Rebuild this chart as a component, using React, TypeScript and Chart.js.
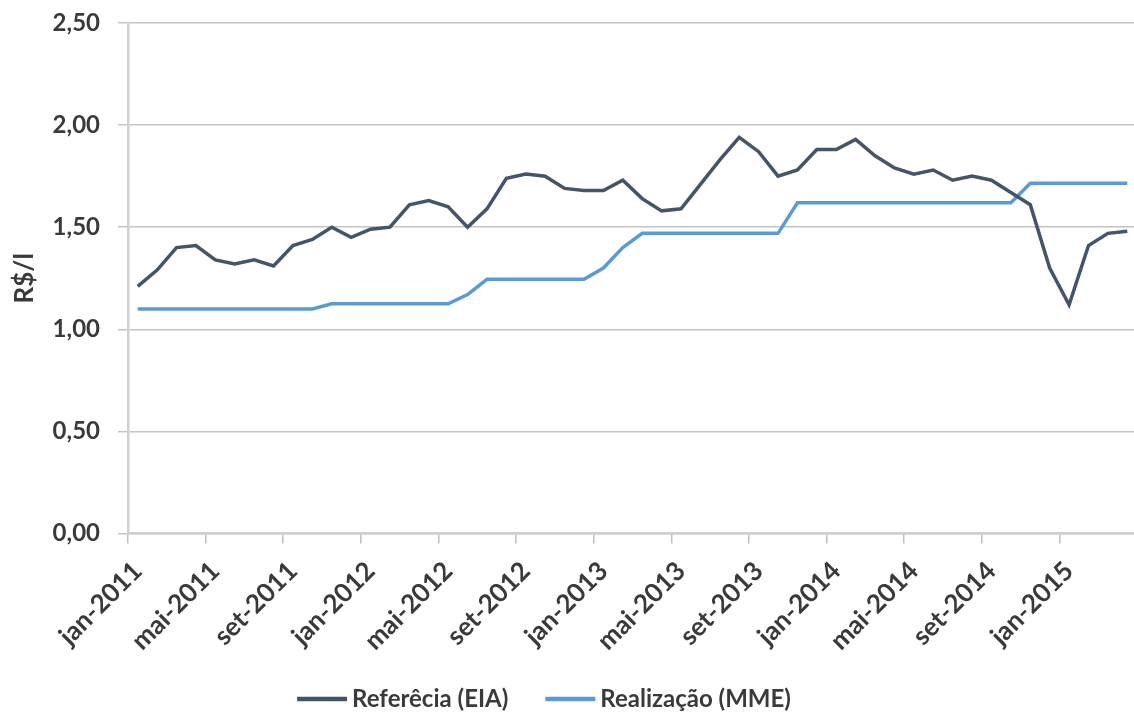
import React, { useEffect, useRef } from 'react';
import { Chart, registerables } from 'chart.js';

Chart.register(...registerables);

// Monthly categories, jan-2011 .. abr-2015
const months: string[] = [
  'jan-2011', 'fev-2011', 'mar-2011', 'abr-2011', 'mai-2011', 'jun-2011',
  'jul-2011', 'ago-2011', 'set-2011', 'out-2011', 'nov-2011', 'dez-2011',
  'jan-2012', 'fev-2012', 'mar-2012', 'abr-2012', 'mai-2012', 'jun-2012',
  'jul-2012', 'ago-2012', 'set-2012', 'out-2012', 'nov-2012', 'dez-2012',
  'jan-2013', 'fev-2013', 'mar-2013', 'abr-2013', 'mai-2013', 'jun-2013',
  'jul-2013', 'ago-2013', 'set-2013', 'out-2013', 'nov-2013', 'dez-2013',
  'jan-2014', 'fev-2014', 'mar-2014', 'abr-2014', 'mai-2014', 'jun-2014',
  'jul-2014', 'ago-2014', 'set-2014', 'out-2014', 'nov-2014', 'dez-2014',
  'jan-2015', 'fev-2015', 'mar-2015', 'abr-2015',
];

// Reference price (EIA), R$/l
const referencia: number[] = [
  1.21, 1.29, 1.40, 1.41, 1.34, 1.32, 1.34, 1.31, 1.41, 1.44, 1.50, 1.45,
  1.49, 1.50, 1.61, 1.63, 1.60, 1.50, 1.59, 1.74, 1.76, 1.75, 1.69, 1.68,
  1.68, 1.73, 1.64, 1.58, 1.59, 1.71, 1.83, 1.94, 1.87, 1.75, 1.78, 1.88,
  1.88, 1.93, 1.85, 1.79, 1.76, 1.78, 1.73, 1.75, 1.73, 1.67, 1.61, 1.30,
  1.12, 1.41, 1.47, 1.48,
];

// Realized price (MME), R$/l
const realizacao: number[] = [
  1.10, 1.10, 1.10, 1.10, 1.10, 1.10, 1.10, 1.10, 1.10, 1.10, 1.125, 1.125,
  1.125, 1.125, 1.125, 1.125, 1.125, 1.17, 1.245, 1.245, 1.245, 1.245, 1.245, 1.245,
  1.30, 1.40, 1.47, 1.47, 1.47, 1.47, 1.47, 1.47, 1.47, 1.47, 1.62, 1.62,
  1.62, 1.62, 1.62, 1.62, 1.62, 1.62, 1.62, 1.62, 1.62, 1.62, 1.715, 1.715,
  1.715, 1.715, 1.715, 1.715,
];

const seriesLabels: string[] = ['Referêcia (EIA)', 'Realização (MME)'];
const yTicks: number[] = [0, 0.5, 1, 1.5, 2, 2.5];
const labelEvery = 4;

const FONT = 'Lato';
const TEXT = '#3A3A3A';
const X_FONT = 26;
const Y_FONT = 24;
const TITLE_FONT = 26;
const LEGEND_FONT = 24;

// Legend drawn as line samples followed by the series name
const lineLegend = {
  id: 'lineLegend',
  afterDraw(chart: any) {
    const { ctx } = chart;
    ctx.save();
    ctx.font = `bold ${LEGEND_FONT}px ${FONT}`;
    const sample = 50;
    const gap = 5;
    const between = 37;
    const items = chart.data.datasets.map((ds: any) => ({
      label: ds.label as string,
      color: ds.borderColor as string,
      w: ctx.measureText(ds.label).width,
    }));
    const total =
      items.reduce((s: number, it: any) => s + sample + gap + it.w, 0) +
      between * (items.length - 1);
    let x = 544 - total / 2;
    const y = 699;
    for (const it of items) {
      ctx.strokeStyle = it.color;
      ctx.lineWidth = 4.5;
      ctx.beginPath();
      ctx.moveTo(x, y);
      ctx.lineTo(x + sample, y);
      ctx.stroke();
      ctx.fillStyle = TEXT;
      ctx.textAlign = 'left';
      ctx.textBaseline = 'middle';
      ctx.fillText(it.label, x + sample + gap, y);
      x += sample + gap + it.w + between;
    }
    ctx.restore();
  },
};

export default function App() {
  const ref = useRef<HTMLCanvasElement>(null);

  useEffect(() => {
    if (!ref.current) return;
    const chart = new Chart(ref.current, {
      type: 'line',
      data: {
        labels: months,
        datasets: [
          {
            label: seriesLabels[0],
            data: referencia,
            borderColor: '#44546A',
            backgroundColor: '#44546A',
            borderWidth: 3.5,
            pointRadius: 0,
            tension: 0,
          },
          {
            label: seriesLabels[1],
            data: realizacao,
            borderColor: '#5B9BD5',
            backgroundColor: '#5B9BD5',
            borderWidth: 3.5,
            pointRadius: 0,
            tension: 0,
          },
        ],
      },
      options: {
        animation: false,
        responsive: true,
        maintainAspectRatio: false,
        layout: { padding: { top: 23, right: 0, bottom: 0, left: 0 } },
        plugins: {
          legend: { display: false },
          tooltip: { enabled: false },
        },
        scales: {
          x: {
            type: 'category',
            offset: true,
            afterFit: (scale: any) => {
              scale.height = 181.5;
              scale.paddingLeft = 0;
              scale.paddingRight = 0;
            },
            grid: {
              offset: true,
              drawOnChartArea: false,
              drawTicks: true,
              tickLength: 10,
              lineWidth: 1.5,
              color: (ctx: any) =>
                ctx.index % labelEvery === 0 ? '#BFBFBF' : 'rgba(0,0,0,0)',
            },
            border: { display: true, color: '#D0D0D0', width: 2.5 },
            ticks: {
              autoSkip: false,
              maxRotation: 45,
              minRotation: 45,
              padding: 12,
              color: TEXT,
              font: { family: FONT, size: X_FONT, weight: 'bold' },
              callback: (_v: any, i: number) =>
                i % labelEvery === 0 ? months[i] : '',
            },
          },
          y: {
            min: 0,
            max: 2.5,
            afterFit: (scale: any) => {
              scale.width = 128;
              scale.paddingTop = 0;
              scale.paddingBottom = 0;
            },
            afterBuildTicks: (scale: any) => {
              scale.ticks = yTicks.map((v) => ({ value: v }));
            },
            grid: {
              color: '#C4C4C4',
              lineWidth: 1.5,
              drawTicks: true,
              tickLength: 10,
            },
            border: { display: true, color: '#D0D0D0', width: 2.5 },
            ticks: {
              padding: 18,
              color: TEXT,
              font: { family: FONT, size: Y_FONT, weight: 'bold' },
              callback: (v: any) => Number(v).toFixed(2).replace('.', ','),
            },
            title: {
              display: true,
              text: 'R$/l',
              color: TEXT,
              font: { family: FONT, size: TITLE_FONT, weight: 'bold' },
              padding: { top: 9, bottom: 0 },
            },
          },
        },
      },
      plugins: [lineLegend],
    });
    return () => chart.destroy();
  }, []);

  return (
    <div
      style={{
        position: 'fixed',
        left: 0,
        top: 0,
        width: 1134,
        height: 715,
        overflow: 'hidden',
        background: '#ffffff',
      }}
    >
      <div style={{ position: 'relative', width: 1137, height: 715 }}>
        <canvas ref={ref} />
      </div>
    </div>
  );
}
